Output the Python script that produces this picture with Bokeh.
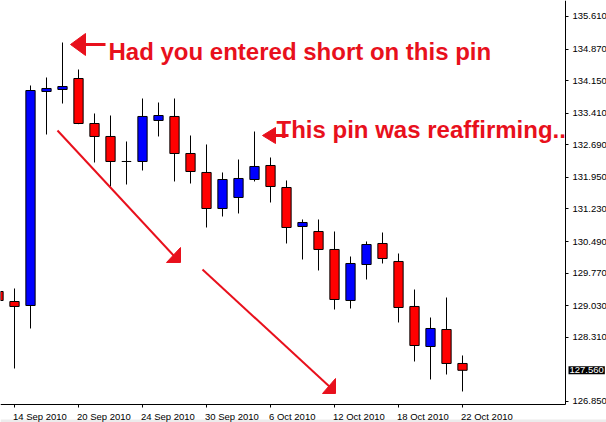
from bokeh.plotting import figure
from bokeh.models import (Range1d, FixedTicker, PrintfTickFormatter, ColumnDataSource,
                          LinearAxis, Label)
from bokeh.core.properties import value
from bokeh.embed import file_html
from bokeh.resources import INLINE

# Daily GBP/JPY candles, 13 Sep - 22 Oct 2010
dates = ["13 Sep 2010", "14 Sep 2010", "15 Sep 2010", "16 Sep 2010", "17 Sep 2010",
         "20 Sep 2010", "21 Sep 2010", "22 Sep 2010", "23 Sep 2010", "24 Sep 2010",
         "27 Sep 2010", "28 Sep 2010", "29 Sep 2010", "30 Sep 2010", "1 Oct 2010",
         "4 Oct 2010", "5 Oct 2010", "6 Oct 2010", "7 Oct 2010", "8 Oct 2010",
         "11 Oct 2010", "12 Oct 2010", "13 Oct 2010", "14 Oct 2010", "15 Oct 2010",
         "18 Oct 2010", "19 Oct 2010", "20 Oct 2010", "21 Oct 2010", "22 Oct 2010"]
opens = [129.353, 129.125, 129.034, 133.904, 133.949, 134.199, 133.175, 132.880,
         132.311, 132.311, 133.244, 133.335, 132.493, 132.061, 131.241, 131.492,
         131.901, 132.220, 131.719, 130.832, 130.718, 130.309, 129.148, 129.967,
         130.445, 130.036, 129.012, 128.101, 128.488, 127.715]
highs = [129.444, 129.421, 134.040, 134.222, 135.018, 134.404, 133.403, 133.357,
         132.766, 133.744, 133.653, 133.744, 132.902, 132.698, 132.061, 132.356,
         132.993, 132.402, 131.879, 130.991, 130.991, 130.718, 130.149, 130.491,
         130.695, 130.217, 129.398, 128.761, 129.216, 127.897]
lows = [129.080, 127.601, 128.511, 132.925, 133.630, 133.160, 132.288, 131.742,
        131.787, 132.106, 132.880, 131.856, 131.810, 130.809, 131.059, 131.128,
        131.856, 131.378, 130.445, 130.081, 129.831, 128.943, 128.966, 129.626,
        129.990, 128.648, 127.760, 127.351, 127.464, 127.078]
closes = [129.148, 129.012, 133.926, 133.972, 134.017, 133.175, 132.880, 132.311,
          132.311, 133.335, 133.357, 132.493, 132.083, 131.241, 131.901, 131.924,
          132.197, 131.742, 130.809, 130.923, 130.309, 129.171, 129.990, 130.422,
          130.104, 128.989, 128.124, 128.511, 127.715, 127.560]

# price scale labels on the right
price_ticks = [135.61, 134.87, 134.15, 133.41, 132.69, 131.95, 131.23,
               130.49, 129.77, 129.03, 128.31, 126.85]
# date labels every fourth bar
date_tick_bars = [1, 5, 9, 13, 17, 21, 25, 29]

RED = "#ff0000"
BLUE = "#0000ff"
NOTE = "#e8101c"

# chart window: bar-index units across, price units up
X_START, X_END = 0.125, 38.0
Y_START, Y_END = 126.372, 135.974
AXIS_X = 35.4375      # where the price scale sits
AXIS_Y = 126.782      # where the time scale sits
DATE_Y = 126.515      # baseline of the date labels

idx = list(range(len(dates)))
bars = ColumnDataSource(dict(
    x=idx,
    high=highs,
    low=lows,
    top=[max(o, c) for o, c in zip(opens, closes)],
    bottom=[min(o, c) for o, c in zip(opens, closes)],
    color=[BLUE if c > o else RED for o, c in zip(opens, closes)],
))

p = figure(width=606, height=422, output_backend="svg", toolbar_location=None,
           x_range=Range1d(X_START, X_END), y_range=Range1d(Y_START, Y_END),
           x_axis_location=None, y_axis_location=None, min_border=0)
p.outline_line_color = None
p.background_fill_color = "white"
p.border_fill_color = "white"
p.xgrid.visible = False
p.ygrid.visible = False

# light strip along the bottom edge of the window
p.quad(left=X_START, right=X_END, bottom=Y_START, top=126.440,
       fill_color="#ececec", line_color=None)

# price axis pinned at the right edge of the chart area
ya = LinearAxis(fixed_location=AXIS_X, bounds=(AXIS_Y, Y_END),
                ticker=FixedTicker(ticks=price_ticks),
                formatter=PrintfTickFormatter(format="%.3f"))
ya.axis_line_color = "black"
ya.major_tick_line_color = "black"
ya.major_tick_in = 0
ya.major_tick_out = 3
ya.minor_tick_line_color = None
ya.major_label_standoff = 4
ya.major_label_text_font = "Liberation Sans"
ya.major_label_text_font_size = "9.5px"
ya.major_label_text_color = "black"
p.add_layout(ya, "right")

# time axis pinned at the bottom of the chart area (its labels are drawn below,
# left-aligned to each tick)
xa = LinearAxis(fixed_location=AXIS_Y, bounds=(X_START, AXIS_X),
                ticker=FixedTicker(ticks=date_tick_bars))
xa.axis_line_color = "black"
xa.major_tick_line_color = "black"
xa.major_tick_in = 0
xa.major_tick_out = 3
xa.minor_tick_line_color = None
xa.major_label_text_color = None
p.add_layout(xa, "below")

p.text(x=date_tick_bars, y=[DATE_Y] * len(date_tick_bars),
       text=[dates[i] for i in date_tick_bars], x_offset=-1.5,
       text_align="left", text_baseline="alphabetic",
       text_font=value("Liberation Sans"), text_font_size="9.5px", text_color="black")

# candles
p.segment(x0="x", y0="low", x1="x", y1="high", source=bars, line_color="black", line_width=1)
p.vbar(x="x", width=0.58, top="top", bottom="bottom", source=bars,
       fill_color="color", line_color="black", line_width=1)

# last price marker
p.add_layout(Label(x=AXIS_X, y=closes[-1], x_offset=3, text="%.3f" % closes[-1],
                   text_baseline="middle", text_align="left", padding=1,
                   text_font="Liberation Sans", text_font_size="9.5px",
                   text_color="white", background_fill_color="black"))

# annotation: first pin
p.patch([4.5, 5.4375, 5.4375], [134.973, 135.223, 134.723], color=NOTE)
p.line([5.3, 6.6875], [134.973, 134.973], line_color=NOTE, line_width=3)
p.add_layout(Label(x=6.875, y=134.814, text="Had you entered short on this pin",
                   text_font="Liberation Sans", text_font_style="bold",
                   text_font_size="24px", text_color=NOTE, text_baseline="alphabetic"))

# annotation: second pin
p.patch([16.5, 17.3125, 17.3125], [132.902, 133.084, 132.720], color=NOTE)
p.line([17.2, 18.125], [132.902, 132.902], line_color=NOTE, line_width=3)
p.add_layout(Label(x=17.375, y=133.039, text="This pin was reaffirming..",
                   text_font="Liberation Sans", text_font_style="bold",
                   text_font_size="24px", text_color=NOTE, text_baseline="alphabetic"))

# downtrend arrows
p.line([3.6875, 11.0], [133.016, 130.149], line_color=NOTE, line_width=2)
p.patch([11.375, 10.5, 11.375], [130.354, 130.013, 130.013], color=NOTE)
p.line([12.75, 20.75], [129.854, 127.169], line_color=NOTE, line_width=2)
p.patch([21.0625, 20.25, 21.0625], [127.373, 127.032, 127.032], color=NOTE)

open("out.html", "w").write(file_html(p, INLINE))
